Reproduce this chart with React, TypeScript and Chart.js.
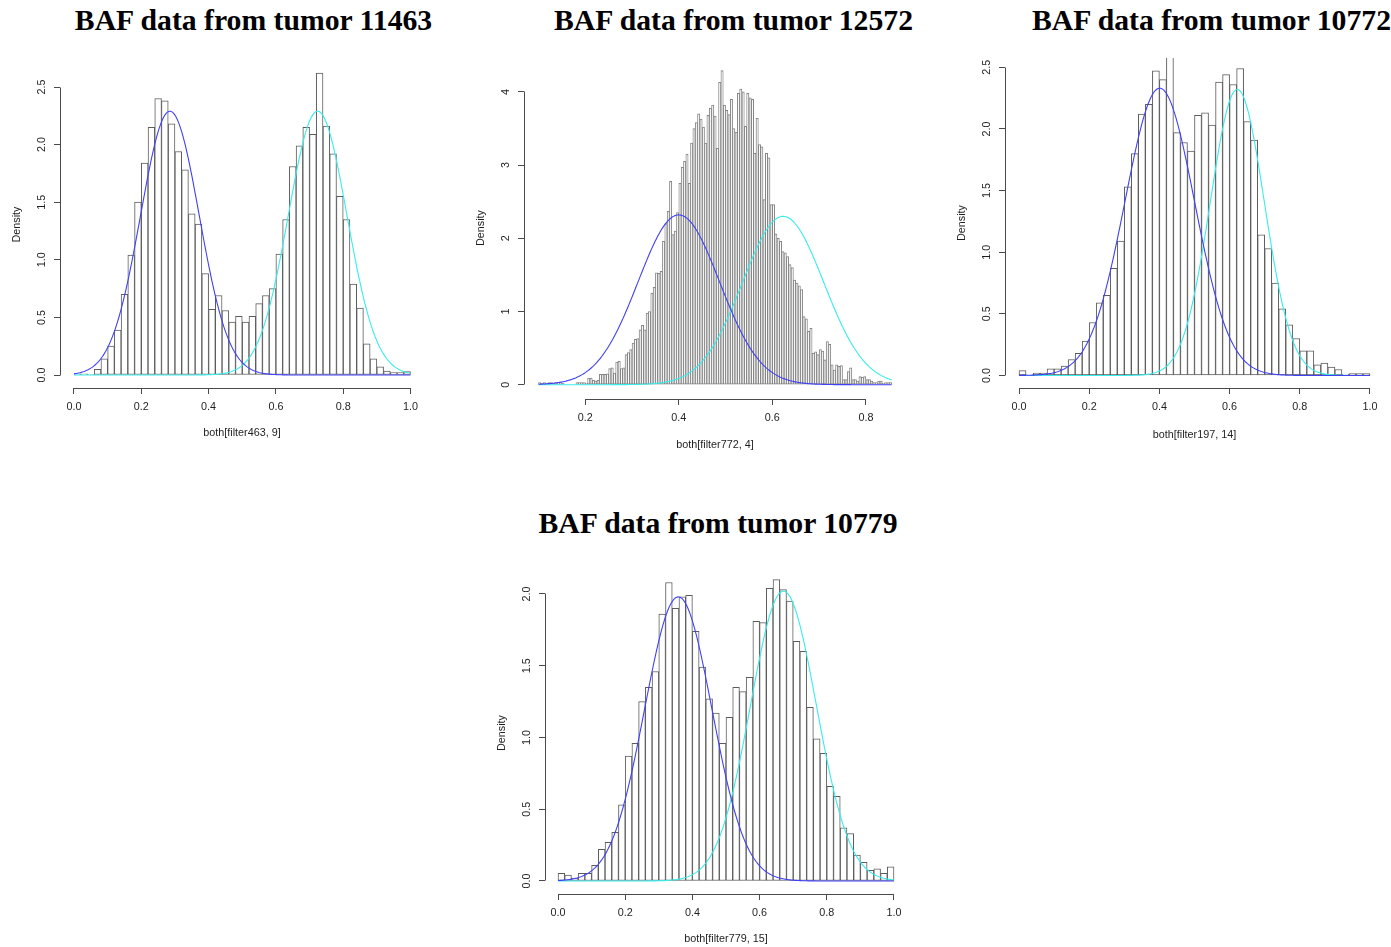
import React, { useEffect, useRef } from 'react';
import { Chart, registerables } from 'chart.js';

Chart.register(...registerables);

// ---------------- DATA ----------------
const p1Title = 'BAF data from tumor 11463';
const p1XLabel = 'both[filter463, 9]';
const p1BinStart = 0;
const p1BinWidth = 0.02;
const p1Density = [
  0.01, 0.01, 0.005, 0.05, 0.14, 0.25, 0.39, 0.70, 1.04, 1.50,
  1.84, 2.15, 2.40, 2.38, 2.18, 1.94, 1.78, 1.40, 1.31, 0.88,
  0.57, 0.69, 0.56, 0.46, 0.51, 0.46, 0.51, 0.62, 0.69, 0.75,
  1.05, 1.35, 1.81, 1.99, 2.15, 2.09, 2.62, 2.16, 1.92, 1.55,
  1.35, 0.79, 0.58, 0.27, 0.14, 0.07, 0.035, 0.02, 0.02, 0.03,
];
const p1CurveMean = [0.285, 0.724];
const p1CurveSd = [0.087, 0.087];
const p1CurvePeak = [2.29, 2.29];
const p1CurveRange = [0, 1];
const p1XTicks = [0, 0.2, 0.4, 0.6, 0.8, 1.0];
const p1YTicks = [0, 0.5, 1.0, 1.5, 2.0, 2.5];

const p2Title = 'BAF data from tumor 12572';
const p2XLabel = 'both[filter772, 4]';
const p2BinStart = 0.1;
const p2BinWidth = 0.005;
const p2Density = [
  0.03, 0.02, 0.03, 0.02, 0.03, 0.03, 0.02, 0.03, 0.03, 0.03, 0.02,
  0, 0, 0, 0, 0,
  0.03, 0.03, 0.03, 0.03, 0.02,
  0.09, 0.09, 0.06, 0.05, 0.06,
  0.14, 0.14, 0.14, 0.15,
  0.22, 0.23, 0.16, 0.31, 0.32, 0.22, 0.23,
  0.41, 0.44, 0.48, 0.57, 0.62, 0.63, 0.75, 0.81, 0.75,
  0.98, 1.0, 1.25, 1.33, 1.53, 1.52, 1.55,
  1.96, 2.2, 2.37, 2.78, 2.05, 2.1, 2.35,
  2.75, 2.97, 3.05, 3.15, 2.75, 3.3, 3.5,
  3.58, 3.7, 3.63, 3.52, 3.3, 3.68, 3.78,
  3.82, 3.67, 3.23, 4.13, 4.29, 3.82, 3.75,
  3.69, 3.9, 3.5, 3.45, 3.98, 4.04, 4.0,
  3.53, 3.98, 3.92, 3.9, 3.16, 3.64, 3.28,
  3.25, 2.53, 3.16, 3.1, 2.46, 2.46, 2.06,
  2.0, 1.96, 1.82, 1.8, 1.75, 1.64, 1.6,
  1.43, 1.39, 1.35, 1.3, 0.93, 0.9, 0.73,
  0.77, 0.43, 0.45, 0.41, 0.48, 0.46, 0.34,
  0.59, 0.55, 0.27, 0.2, 0.27, 0.25, 0.26,
  0.07, 0.07, 0.18, 0.23, 0.07, 0.07, 0.05,
  0.11, 0.1, 0.11, 0.07, 0.07, 0.05, 0.03,
  0.03, 0.05, 0.05, 0.02, 0.03, 0.03, 0.03,
];
const p2CurveMean = [0.40, 0.623];
const p2CurveSd = [0.087, 0.087];
const p2CurvePeak = [2.32, 2.30];
const p2CurveRange = [0.1, 0.855];
const p2XTicks = [0.2, 0.4, 0.6, 0.8];
const p2YTicks = [0, 1, 2, 3, 4];

const p3Title = 'BAF data from tumor 10772';
const p3XLabel = 'both[filter197, 14]';
const p3BinStart = 0;
const p3BinWidth = 0.02;
const p3Density = [
  0.04, 0.005, 0.02, 0.02, 0.054, 0.054, 0.076, 0.13, 0.18, 0.28,
  0.43, 0.59, 0.65, 0.87, 1.09, 1.53, 1.80, 2.12, 2.20, 2.47,
  2.40, 3.00, 1.97, 1.89, 1.82, 2.11, 2.13, 2.03, 2.38, 2.44,
  2.36, 2.49, 2.06, 1.91, 1.14, 1.03, 0.75, 0.54, 0.41, 0.30,
  0.20, 0.20, 0.087, 0.10, 0.068, 0.049, 0.01, 0.016, 0.016, 0.016,
];
const p3CurveMean = [0.401, 0.622];
const p3CurveSd = [0.099, 0.077];
const p3CurvePeak = [2.33, 2.32];
const p3CurveRange = [0, 1];
const p3XTicks = [0, 0.2, 0.4, 0.6, 0.8, 1.0];
const p3YTicks = [0, 0.5, 1.0, 1.5, 2.0, 2.5];

const p4Title = 'BAF data from tumor 10779';
const p4XLabel = 'both[filter779, 15]';
const p4BinStart = 0;
const p4BinWidth = 0.02;
const p4Density = [
  0.053, 0.042, 0.02, 0.053, 0.053, 0.11, 0.22, 0.27, 0.34, 0.53,
  0.87, 0.96, 1.25, 1.35, 1.46, 1.86, 2.08, 1.90, 1.98, 1.99,
  1.74, 1.49, 1.27, 1.17, 0.96, 1.14, 1.35, 1.32, 1.42, 1.81,
  1.80, 2.04, 2.10, 2.03, 1.95, 1.67, 1.60, 1.21, 0.99, 0.89,
  0.66, 0.59, 0.37, 0.33, 0.18, 0.13, 0.074, 0.084, 0.053, 0.098,
];
const p4CurveMean = [0.358, 0.671];
const p4CurveSd = [0.10, 0.098];
const p4CurvePeak = [1.98, 2.02];
const p4CurveRange = [0, 1];
const p4XTicks = [0, 0.2, 0.4, 0.6, 0.8, 1.0];
const p4YTicks = [0, 0.5, 1.0, 1.5, 2.0];

const yAxisLabel = 'Density';
const curveColors = ['#4040f8', '#38ecec'];

// ---------------- STYLE / LAYOUT ----------------
const AXIS_FONT = '"Liberation Sans", Arial, sans-serif';
const AXIS_SIZE = 10.8;
const AXIS_COLOR = '#4a4a4a';
const TEXT_COLOR = '#1e1e1e';
const TITLE_SIZE = 29.7;
const WY = 60;
const PAD_T = 4;
const PAD_R = 6;

type Box = { l: number; r: number; t: number; b: number };
type PanelCfg = {
  title: string; xLabel: string; binStart: number; binWidth: number; density: number[];
  mean: number[]; sd: number[]; peak: number[]; curveRange: number[];
  xTicks: number[]; yTicks: number[]; xDigits: number; yDigits: number;
  box: Box; xMin: number; xMax: number; yMin: number; yMax: number; hx: number;
  titleX: number; titleTop: number; barBorder: string;
};

const panels: PanelCfg[] = [
  {
    title: p1Title, xLabel: p1XLabel, binStart: p1BinStart, binWidth: p1BinWidth, density: p1Density,
    mean: p1CurveMean, sd: p1CurveSd, peak: p1CurvePeak, curveRange: p1CurveRange,
    xTicks: p1XTicks, yTicks: p1YTicks, xDigits: 1, yDigits: 1,
    box: { l: 60, r: 424, t: 61, b: 388 }, xMin: -0.0416, xMax: 1.0401, yMin: -0.1128, yMax: 2.7257, hx: 56,
    titleX: 253.5, titleTop: 6, barBorder: '#5c5c5c',
  },
  {
    title: p2Title, xLabel: p2XLabel, binStart: p2BinStart, binWidth: p2BinWidth, density: p2Density,
    mean: p2CurveMean, sd: p2CurveSd, peak: p2CurvePeak, curveRange: p2CurveRange,
    xTicks: p2XTicks, yTicks: p2YTicks, xDigits: 1, yDigits: 0,
    box: { l: 524, r: 906, t: 57, b: 399 }, xMin: 0.06905, xMax: 0.8857, yMin: -0.1954, yMax: 4.477, hx: 57,
    titleX: 733.5, titleTop: 6, barBorder: '#858585',
  },
  {
    title: p3Title, xLabel: p3XLabel, binStart: p3BinStart, binWidth: p3BinWidth, density: p3Density,
    mean: p3CurveMean, sd: p3CurveSd, peak: p3CurvePeak, curveRange: p3CurveRange,
    xTicks: p3XTicks, yTicks: p3YTicks, xDigits: 1, yDigits: 1,
    box: { l: 1005, r: 1384, t: 58, b: 388 }, xMin: -0.0399, xMax: 1.0399, yMin: -0.1014, yMax: 2.575, hx: 58,
    titleX: 1211.5, titleTop: 6, barBorder: '#5c5c5c',
  },
  {
    title: p4Title, xLabel: p4XLabel, binStart: p4BinStart, binWidth: p4BinWidth, density: p4Density,
    mean: p4CurveMean, sd: p4CurveSd, peak: p4CurvePeak, curveRange: p4CurveRange,
    xTicks: p4XTicks, yTicks: p4YTicks, xDigits: 1, yDigits: 1,
    box: { l: 545, r: 907, t: 572, b: 894 }, xMin: -0.0387, xMax: 1.0387, yMin: -0.0906, yMax: 2.1533, hx: 56,
    titleX: 718, titleTop: 509, barBorder: '#5c5c5c',
  },
];

const alignPx = (p: number) => Math.round(p - 0.5) + 0.5;

const rAxisPlugin = {
  id: 'rAxis',
  afterDraw(chart: any, _args: any, opts: any) {
    const { ctx, chartArea } = chart;
    const xs = chart.scales.x;
    const ys = chart.scales.y;
    const xt = xs.ticks;
    const yt = ys.ticks;
    ctx.save();
    ctx.strokeStyle = AXIS_COLOR;
    ctx.lineWidth = 1;
    const yb = alignPx(chartArea.bottom);
    ctx.beginPath();
    ctx.moveTo(alignPx(xs.getPixelForValue(xt[0].value)), yb);
    ctx.lineTo(alignPx(xs.getPixelForValue(xt[xt.length - 1].value)), yb);
    ctx.stroke();
    const xl = alignPx(chartArea.left);
    ctx.beginPath();
    ctx.moveTo(xl, alignPx(ys.getPixelForValue(yt[0].value)));
    ctx.lineTo(xl, alignPx(ys.getPixelForValue(yt[yt.length - 1].value)));
    ctx.stroke();
    ctx.fillStyle = TEXT_COLOR;
    ctx.font = `${AXIS_SIZE}px ${AXIS_FONT}`;
    ctx.textAlign = 'center';
    ctx.textBaseline = 'middle';
    for (const t of yt) {
      const py = ys.getPixelForValue(t.value);
      ctx.save();
      ctx.translate(chartArea.left - 18, py);
      ctx.rotate(-Math.PI / 2);
      ctx.fillText(Number(t.value).toFixed(opts.yDigits), 0, 0);
      ctx.restore();
    }
    ctx.restore();
  },
};

function Panel({ cfg }: { cfg: PanelCfg }) {
  const ref = useRef<HTMLCanvasElement>(null);
  const W = WY + (cfg.box.r - cfg.box.l) + PAD_R;
  const H = PAD_T + (cfg.box.b - cfg.box.t) + cfg.hx;

  useEffect(() => {
    const bars = cfg.density.map((d, i) => ({ x: cfg.binStart + (i + 0.5) * cfg.binWidth, y: d }));
    const N = 300;
    const [a, b] = cfg.curveRange;
    const curves = cfg.mean.map((mu, k) => {
      const pts: { x: number; y: number }[] = [];
      for (let i = 0; i <= N; i++) {
        const x = a + ((b - a) * i) / N;
        const z = (x - mu) / cfg.sd[k];
        pts.push({ x, y: cfg.peak[k] * Math.exp(-0.5 * z * z) });
      }
      return {
        type: 'line' as const,
        data: pts,
        borderColor: curveColors[k],
        borderWidth: 1.1,
        pointRadius: 0,
        tension: 0,
        fill: false,
        order: 1,
      };
    });
    const axisFont = { family: AXIS_FONT, size: AXIS_SIZE };
    const chart = new Chart(ref.current as HTMLCanvasElement, {
      type: 'bar',
      data: {
        datasets: [
          {
            type: 'bar',
            data: bars as any,
            backgroundColor: '#ffffff',
            borderColor: cfg.barBorder,
            borderWidth: 1,
            borderSkipped: false,
            barPercentage: 1,
            categoryPercentage: 1,
            clip: 0,
            order: 3,
          } as any,
          ...(curves as any[]),
        ],
      },
      options: {
        animation: false,
        responsive: false,
        devicePixelRatio: 1,
        events: [],
        layout: { padding: { top: PAD_T, right: PAD_R, left: 0, bottom: 0 } },
        plugins: {
          legend: { display: false },
          tooltip: { enabled: false },
          title: { display: false },
          rAxis: { yDigits: cfg.yDigits },
        } as any,
        scales: {
          x: {
            type: 'linear',
            min: cfg.xMin,
            max: cfg.xMax,
            offset: false,
            afterBuildTicks: (s: any) => { s.ticks = cfg.xTicks.map((v) => ({ value: v })); },
            afterFit: (s: any) => { s.height = cfg.hx; },
            grid: { display: true, drawOnChartArea: false, drawTicks: true, tickLength: 6, color: AXIS_COLOR, lineWidth: 1, offset: false },
            border: { display: false },
            ticks: {
              font: axisFont, color: TEXT_COLOR, padding: 7, maxRotation: 0, minRotation: 0, autoSkip: false,
              callback: (v: any) => Number(v).toFixed(cfg.xDigits),
            },
            title: { display: true, text: cfg.xLabel, font: axisFont, color: TEXT_COLOR, padding: { top: 0, bottom: 4 } },
          },
          y: {
            type: 'linear',
            min: cfg.yMin,
            max: cfg.yMax,
            afterBuildTicks: (s: any) => { s.ticks = cfg.yTicks.map((v) => ({ value: v })); },
            afterFit: (s: any) => { s.width = WY; },
            grid: { display: true, drawOnChartArea: false, drawTicks: true, tickLength: 6, color: AXIS_COLOR, lineWidth: 1 },
            border: { display: false },
            ticks: { display: false },
            title: { display: true, text: yAxisLabel, font: axisFont, color: TEXT_COLOR, padding: { top: 10.5, bottom: 0 } },
          },
        },
      } as any,
      plugins: [rAxisPlugin as any],
    });
    return () => chart.destroy();
  }, []);

  return (
    <>
      <div
        style={{
          position: 'absolute',
          left: cfg.titleX,
          top: cfg.titleTop,
          transform: 'translateX(-50%)',
          fontFamily: '"Liberation Serif", "Times New Roman", serif',
          fontWeight: 'bold',
          fontSize: TITLE_SIZE,
          lineHeight: `${TITLE_SIZE}px`,
          whiteSpace: 'nowrap',
          color: '#000',
        }}
      >
        {cfg.title}
      </div>
      <canvas
        ref={ref}
        width={W}
        height={H}
        style={{ position: 'absolute', left: cfg.box.l - WY, top: cfg.box.t - PAD_T, width: W, height: H }}
      />
    </>
  );
}

export default function App() {
  return (
    <div style={{ position: 'fixed', left: 0, top: 0, width: 1391, height: 947, overflow: 'hidden', background: '#fff' }}>
      {panels.map((p, i) => (
        <Panel key={i} cfg={p} />
      ))}
    </div>
  );
}
